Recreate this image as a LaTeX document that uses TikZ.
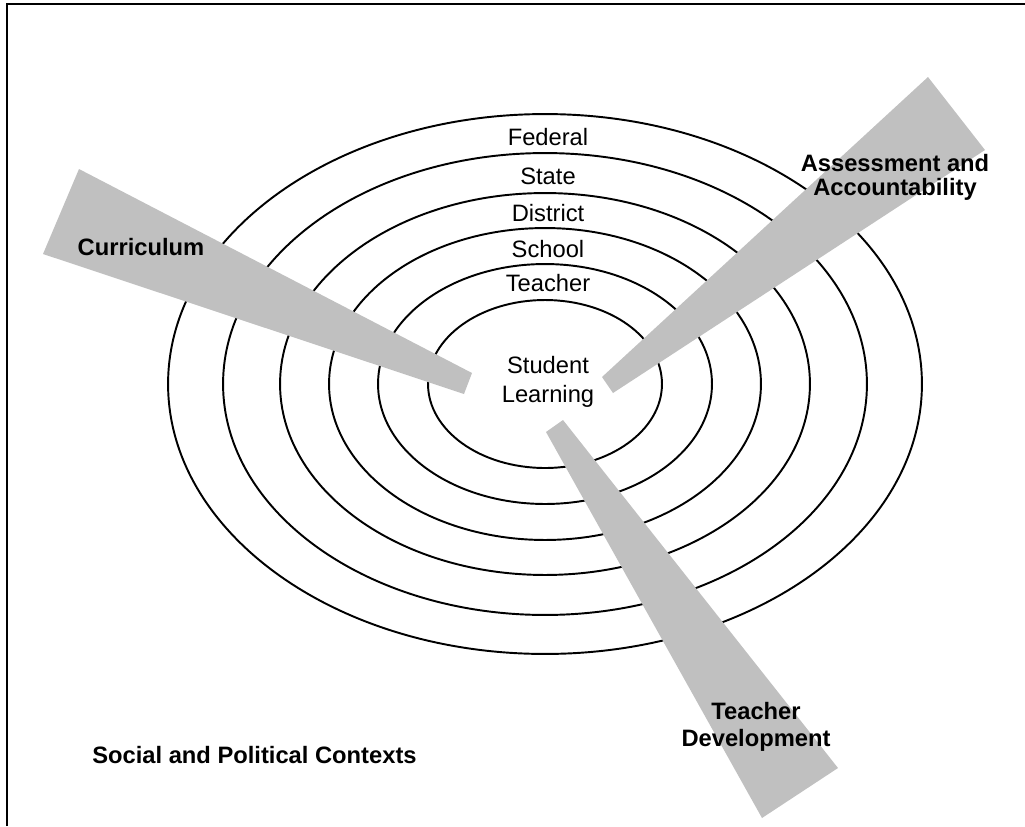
\documentclass[tikz,border=0pt]{standalone}
\usepackage{fontspec}
\setmainfont{Liberation Sans}
\usetikzlibrary{positioning}
\definecolor{wedgegray}{RGB}{192,192,192}

\begin{document}
\begin{tikzpicture}[x=0.02cm, y=-0.02cm, ring/.style={draw, line width=1.1pt}, wedge/.style={fill=wedgegray, draw=none}, lvl/.style={font=\fontsize{13.5}{16.5}\selectfont, align=center, inner sep=0pt}, key/.style={font=\fontsize{13.5}{16}\selectfont\bfseries, align=center, inner sep=0pt}]
		\useasboundingbox (0,0) rectangle (1025,826);
		\draw[line width=1.3pt] (7,826) -- (7,4) -- (1025,4);
		
		% rings, outside in
		\coordinate (c) at (545,384);
		\foreach \rx/\ry in {7.54/5.40, 6.44/4.62, 5.30/3.82, 4.32/3.12, 3.34/2.40, 2.34/1.68}
			\draw[ring] (c) ellipse [x radius=\rx cm, y radius=\ry cm];
		
		% wedges
		\fill[wedge] (79,169) -- (43,254) -- (464,394) -- (472,373) -- cycle;
		\fill[wedge] (928,77) -- (985,150) -- (613,393) -- (602,377) -- cycle;
		\fill[wedge] (546,432) -- (563,420) -- (838,768) -- (762,818) -- cycle;
		
		\node[lvl] (federal) at (548,137) {Federal};
		\node[lvl] (state) at (548,176) {State};
		\node[lvl] (district) at (548,213) {District};
		\node[lvl] (school) at (548,249) {School};
		\node[lvl] (teacher) at (548,283) {Teacher};
		\node[lvl, font=\fontsize{13.5}{16.5}\selectfont] (student) at (548,382) {Student\\Learning};
		
		\node[key] (curric) at (141,247) {Curriculum};
		\node[key, font=\fontsize{13.5}{13.8}\selectfont\bfseries] (assess) at (895,177) {Assessment and\\Accountability};
		\node[key, font=\fontsize{13.5}{15.5}\selectfont\bfseries] (devel) at (756,727) {Teacher\\Development};
		\node[key, anchor=west] (context) at (92,755) {Social and Political Contexts};
	\end{tikzpicture}
\end{document}
